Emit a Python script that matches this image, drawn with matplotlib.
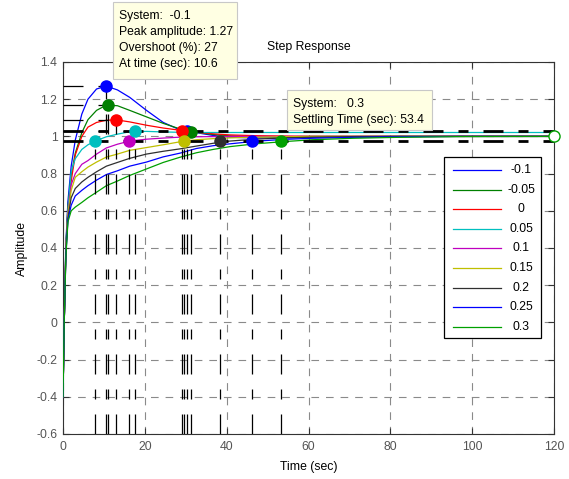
import numpy as np
import matplotlib.pyplot as plt
from matplotlib.patches import Rectangle
from matplotlib.lines import Line2D

plt.rcParams['font.family'] = ['Liberation Sans', 'DejaVu Sans']
plt.rcParams['lines.scale_dashes'] = False

# -------------------------------
# Data
# -------------------------------
systems = ['-0.1', '-0.05', '0', '0.05', '0.1', '0.15', '0.2', '0.25', '0.3']
colors = ['#0000ff', '#008000', '#ff0000', '#00bfbf', '#bf00bf',
          '#bfbf00', '#303030', '#0000ff', '#00a000']

t = [0, 0.3, 0.7, 1.2, 2, 3, 4.6, 6.1, 8.2, 10.6, 13.3, 16.3, 20.4, 24.5, 28.6, 32.6, 36.7,
     40.8, 47, 54, 61, 71, 82, 97, 120]

y_m010 = [-0.4, 0.0, 0.42, 0.65, 0.84, 0.98, 1.12, 1.2, 1.255, 1.27, 1.25, 1.21,
          1.14, 1.075, 1.035, 1.02, 1.005, 0.996, 0.991, 0.992, 0.995, 0.998, 1.0, 1.0, 1.0]
y_m005 = [-0.4, 0.0, 0.41, 0.62, 0.79, 0.91, 1.02, 1.09, 1.14, 1.168, 1.165, 1.14,
          1.105, 1.07, 1.04, 1.022, 1.01, 1.003, 0.998, 0.998, 1.0, 1.0, 1.0, 1.0, 1.0]
y_000 = [-0.4, 0.0, 0.4, 0.6, 0.76, 0.9, 1.0, 1.05, 1.075, 1.087, 1.088, 1.078,
         1.06, 1.045, 1.033, 1.022, 1.014, 1.008, 1.004, 1.002, 1.0, 1.0, 1.0, 1.0, 1.0]
y_005 = [-0.4, 0.0, 0.4, 0.6, 0.81, 0.88, 0.93, 0.955, 0.978, 0.998, 1.012, 1.025,
         1.027, 1.024, 1.022, 1.021, 1.021, 1.021, 1.021, 1.021, 1.021, 1.021, 1.021, 1.021, 1.021]
y_010 = [-0.4, 0.0, 0.39, 0.58, 0.74, 0.8, 0.85, 0.87, 0.905, 0.938, 0.958, 0.975,
         0.985, 0.991, 0.996, 0.998, 0.999, 1.0, 1.0, 1.0, 1.0, 1.0, 1.0, 1.0, 1.0]
y_015 = [-0.4, 0.0, 0.38, 0.58, 0.71, 0.78, 0.81, 0.835, 0.862, 0.889, 0.905, 0.925,
         0.94, 0.955, 0.971, 0.982, 0.988, 0.992, 0.996, 0.998, 1.0, 1.0, 1.0, 1.0, 1.0]
y_020 = [-0.4, 0.0, 0.37, 0.56, 0.67, 0.72, 0.755, 0.78, 0.81, 0.84, 0.86, 0.882,
         0.905, 0.92, 0.933, 0.948, 0.963, 0.975, 0.985, 0.992, 0.996, 0.999, 1.0, 1.0, 1.0]
y_025 = [-0.4, 0.0, 0.36, 0.55, 0.63, 0.68, 0.71, 0.735, 0.765, 0.795, 0.815, 0.84,
         0.862, 0.89, 0.91, 0.935, 0.95, 0.96, 0.974, 0.984, 0.99, 0.995, 0.998, 1.0, 1.0]
y_030 = [-0.4, 0.0, 0.35, 0.54, 0.6, 0.62, 0.645, 0.67, 0.7, 0.735, 0.76, 0.79,
         0.825, 0.86, 0.888, 0.912, 0.93, 0.945, 0.96, 0.972, 0.982, 0.99, 0.995, 0.999, 1.0]
responses = [y_m010, y_m005, y_000, y_005, y_010, y_015, y_020, y_025, y_030]

# peak response markers (systems with overshoot)
peak_sys = [0, 1, 2, 3]
peak_time = [10.6, 11.1, 13.0, 17.5]
peak_amp = [1.27, 1.17, 1.088, 1.027]

# settling time markers, one per system
settle_time = [30.2, 31.3, 29.0, 7.7, 16.2, 29.6, 38.3, 46.3, 53.4]
settle_amp = [1.027, 1.026, 1.031, 0.975, 0.975, 0.975, 0.974, 0.974, 0.974]

# settling band drawn on the plot
band = [1.028, 0.975]

# -------------------------------
# Figure
# -------------------------------
W, H = 569, 479
fig = plt.figure(figsize=(W / 100, H / 100), dpi=100)
ax = fig.add_axes([63 / W, 45 / H, 491 / W, 372 / H])

char_dash = (0, (14.4, 10.8, 7.2, 10.8))

for i, name in enumerate(systems):
    ax.plot(t, responses[i], color=colors[i], lw=0.9, label=name, zorder=3)

for lev in band:
    ax.plot([0, 120], [lev, lev], color='black', lw=2.0, linestyle=char_dash, zorder=4)

for k, i in enumerate(peak_sys):
    ax.plot([0, peak_time[k]], [peak_amp[k], peak_amp[k]], color='black', lw=0.9,
            linestyle=char_dash, zorder=4)
    ax.plot([peak_time[k], peak_time[k]], [-0.6, peak_amp[k]], color='black', lw=0.9,
            linestyle=char_dash, zorder=4)

for i in range(len(systems)):
    ax.plot([settle_time[i], settle_time[i]], [-0.6, settle_amp[i]], color='black', lw=0.9,
            linestyle=char_dash, zorder=4)

for i in range(len(systems)):
    ax.plot(settle_time[i], settle_amp[i], 'o', color=colors[i], ms=8, zorder=6)
for k, i in enumerate(peak_sys):
    ax.plot(peak_time[k], peak_amp[k], 'o', color=colors[i], ms=8, zorder=6)

# end-of-simulation marker of the last system
ax.plot(t[-1], y_030[-1], 'o', mfc='white', mec=colors[-1], ms=8, mew=1.0, zorder=6,
        clip_on=False)

ax.set_xlim(0, 120)
ax.set_ylim(-0.6, 1.4)
ax.set_xticks(np.arange(0, 121, 20))
ax.set_yticks(np.round(np.arange(-0.6, 1.41, 0.2), 1))
ax.set_yticklabels(['-0.6', '-0.4', '-0.2', '0', '0.2', '0.4', '0.6', '0.8', '1', '1.2', '1.4'])
ax.tick_params(direction='in', top=True, right=True, length=4, width=0.8,
               labelsize=8.8, labelcolor='#555555', color='#333333')
ax.tick_params(axis='x', pad=5)
ax.tick_params(axis='y', pad=4)
for s in ax.spines.values():
    s.set_color('#333333')
    s.set_linewidth(0.8)
ax.grid(True, color='#8a8a8a', lw=0.8, linestyle=(0, (5.5, 5)))

ax.set_title('Step Response', fontsize=8.8, pad=8.5)
ax.set_xlabel('Time (sec)', fontsize=8.8)
ax.set_ylabel('Amplitude', fontsize=8.8)
ax.xaxis.set_label_coords(0.5, -0.073)
ax.yaxis.set_label_coords(-0.072, 0.5)

# legend box drawn by hand so the labels sit centred like MATLAB's
fig.patches.append(Rectangle((444 / W, 1 - 338 / H), 97 / W, 181 / H, transform=fig.transFigure,
                             fc='white', ec='black', lw=0.9, zorder=8))
for i, name in enumerate(systems):
    yy = 1 - (170 + 19.6 * i) / H
    fig.lines.append(Line2D([453 / W, 501 / W], [yy, yy], transform=fig.transFigure,
                            color=colors[i], lw=0.9, zorder=9))
    fig.text(521 / W, yy, name, fontsize=8.7, ha='center', va='center', zorder=9)

# data tips
def data_tip(x0, y0, x1, y1, lines, ys):
    fig.patches.append(Rectangle((x0 / W, 1 - y1 / H), (x1 - x0) / W, (y1 - y0) / H,
                                 transform=fig.transFigure, fc='#ffffe3', ec='#c8c8c8',
                                 lw=0.8, zorder=10))
    for txt, yy in zip(lines, ys):
        fig.text((x0 + 6) / W, 1 - yy / H, txt, fontsize=8.7, va='center', zorder=11)

data_tip(113, 2, 237, 79,
         ['System:  -0.1', 'Peak amplitude: 1.27', 'Overshoot (%): 27', 'At time (sec): 10.6'],
         [16, 32, 48, 64])
data_tip(287, 90, 432, 130,
         ['System:   0.3', 'Settling Time (sec): 53.4'],
         [104, 120.5])

fig.savefig('out.png', dpi=100)
